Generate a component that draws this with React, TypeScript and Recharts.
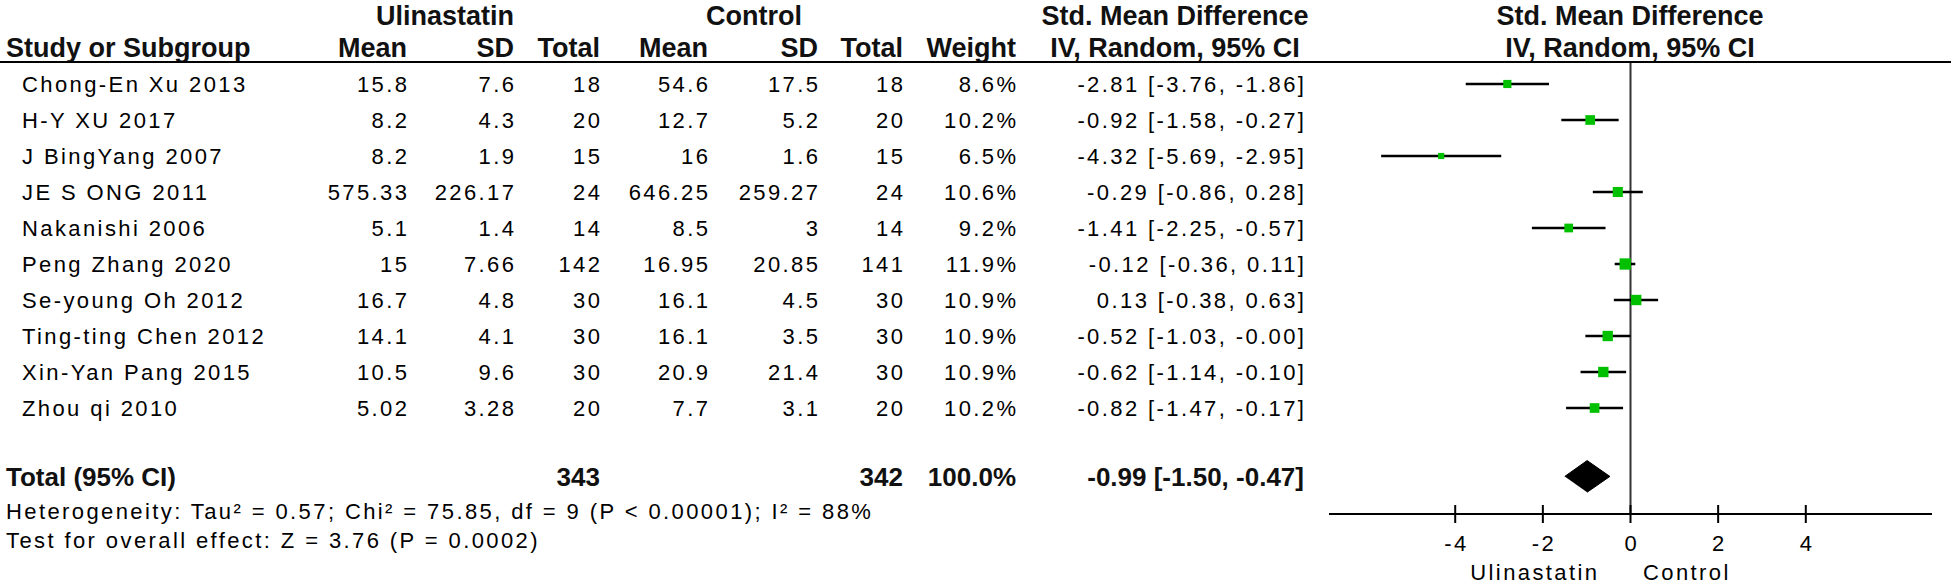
import React from "react";
import { ScatterChart, Scatter, XAxis, YAxis, ErrorBar, ReferenceLine } from "recharts";

const studies = [
  "Chong-En Xu 2013",
  "H-Y XU 2017",
  "J BingYang 2007",
  "JE S ONG 2011",
  "Nakanishi 2006",
  "Peng Zhang 2020",
  "Se-young Oh 2012",
  "Ting-ting Chen 2012",
  "Xin-Yan Pang 2015",
  "Zhou qi 2010",
];
const ulMean = [15.8, 8.2, 8.2, 575.33, 5.1, 15, 16.7, 14.1, 10.5, 5.02];
const ulSD = [7.6, 4.3, 1.9, 226.17, 1.4, 7.66, 4.8, 4.1, 9.6, 3.28];
const ulTotal = [18, 20, 15, 24, 14, 142, 30, 30, 30, 20];
const ctMean = [54.6, 12.7, 16, 646.25, 8.5, 16.95, 16.1, 16.1, 20.9, 7.7];
const ctSD = [17.5, 5.2, 1.6, 259.27, 3, 20.85, 4.5, 3.5, 21.4, 3.1];
const ctTotal = [18, 20, 15, 24, 14, 141, 30, 30, 30, 20];
const weights = [8.6, 10.2, 6.5, 10.6, 9.2, 11.9, 10.9, 10.9, 10.9, 10.2];
const smd = [-2.81, -0.92, -4.32, -0.29, -1.41, -0.12, 0.13, -0.52, -0.62, -0.82];
const ciLow = [-3.76, -1.58, -5.69, -0.86, -2.25, -0.36, -0.38, -1.03, -1.14, -1.47];
const ciHigh = [-1.86, -0.27, -2.95, 0.28, -0.57, 0.11, 0.63, -0, -0.1, -0.17];

const totalUl = 343;
const totalCt = 342;
const totalWeight = 100.0;
const totalSmd = -0.99;
const totalLow = -1.5;
const totalHigh = -0.47;

const xTicks = [-4, -2, 0, 2, 4];
const heterogeneity = "Heterogeneity: Tau\u00B2 = 0.57; Chi\u00B2 = 75.85, df = 9 (P < 0.00001); I\u00B2 = 88%";
const overall = "Test for overall effect: Z = 3.76 (P = 0.0002)";

const FONT = '"Liberation Sans", Arial, sans-serif';
const REG = 22;
const LS = 2.4;
const BOLD = 27;

const ROW0 = 84;
const ROWH = 36;
const rowY = (i: number) => ROW0 + ROWH * i;
const TOTAL_IDX = 10.9;

const fmt2 = (v: number) => (v < 0 || Object.is(v, -0) ? "-" : "") + Math.abs(v).toFixed(2);
const ciText = (e: number, l: number, h: number) => `${fmt2(e)} [${fmt2(l)}, ${fmt2(h)}]`;

const studyData = studies.map((s, i) => ({
  x: smd[i],
  y: i,
  err: [smd[i] - ciLow[i], ciHigh[i] - smd[i]],
  w: weights[i],
}));

const DIAMOND_H = 0.44;
const diamondData = [
  { x: totalLow, y: TOTAL_IDX },
  { x: totalSmd, y: TOTAL_IDX - DIAMOND_H },
  { x: totalHigh, y: TOTAL_IDX },
  { x: totalSmd, y: TOTAL_IDX + DIAMOND_H },
];

const Square = (props: any) => {
  const { cx, cy, payload } = props;
  const s = 0.95 * payload.w;
  return <rect x={cx - s / 2} y={cy - s / 2} width={s} height={s} fill="#00C000" />;
};

const Tick = (props: any) => {
  const { x, y, payload } = props;
  return (
    <g>
      <line x1={x} x2={x} y1={y - 9} y2={y + 9} stroke="#000" strokeWidth={2} />
      <text
        x={x + LS / 2}
        y={y + 37}
        textAnchor="middle"
        fontFamily={FONT}
        fontSize={REG}
        letterSpacing={LS}
        fill="#000"
      >
        {payload.value}
      </text>
    </g>
  );
};

const T = (p: {
  x: number;
  y: number;
  anchor?: "start" | "middle" | "end";
  bold?: boolean;
  size?: number;
  children: React.ReactNode;
}) => {
  const size = p.size ?? (p.bold ? BOLD : REG);
  const ls = p.bold ? 0 : LS;
  const anchor = p.anchor ?? "start";
  const dx = anchor === "end" ? ls : anchor === "middle" ? ls / 2 : 0;
  return (
    <text
      x={p.x + dx}
      y={p.y + 0.358 * size}
      textAnchor={anchor}
      fontFamily={FONT}
      fontSize={size}
      fontWeight={p.bold ? "bold" : "normal"}
      letterSpacing={ls}
      fill={p.bold ? "#111" : "#000"}
    >
      {p.children}
    </text>
  );
};

const COL = {
  study: 22,
  label: 6,
  ulMean: 407,
  ulSD: 514,
  ulTotal: 600,
  ctMean: 708,
  ctSD: 818,
  ctTotal: 903,
  weight: 1016,
  ci: 1304,
};

const H1 = 15;
const H2 = 47;

export default function App() {
  return (
    <div style={{ position: "absolute", left: 0, top: 0, width: 1956, height: 586, background: "#fff" }}>
      <svg width={1956} height={586} style={{ position: "absolute", left: 0, top: 0 }}>
        <T x={445} y={H1} anchor="middle" bold>Ulinastatin</T>
        <T x={754} y={H1} anchor="middle" bold>Control</T>
        <T x={1175} y={H1} anchor="middle" bold>Std. Mean Difference</T>
        <T x={1630} y={H1} anchor="middle" bold>Std. Mean Difference</T>

        <T x={COL.label} y={H2} bold>Study or Subgroup</T>
        <T x={COL.ulMean} y={H2} anchor="end" bold>Mean</T>
        <T x={COL.ulSD} y={H2} anchor="end" bold>SD</T>
        <T x={COL.ulTotal} y={H2} anchor="end" bold>Total</T>
        <T x={COL.ctMean} y={H2} anchor="end" bold>Mean</T>
        <T x={COL.ctSD} y={H2} anchor="end" bold>SD</T>
        <T x={COL.ctTotal} y={H2} anchor="end" bold>Total</T>
        <T x={COL.weight} y={H2} anchor="end" bold>Weight</T>
        <T x={1175} y={H2} anchor="middle" bold>IV, Random, 95% CI</T>
        <T x={1630} y={H2} anchor="middle" bold>IV, Random, 95% CI</T>

        <line x1={0} x2={1951} y1={62} y2={62} stroke="#000" strokeWidth={2} />

        {studies.map((s, i) => (
          <g key={s}>
            <T x={COL.study} y={rowY(i)}>{s}</T>
            <T x={COL.ulMean} y={rowY(i)} anchor="end">{String(ulMean[i])}</T>
            <T x={COL.ulSD} y={rowY(i)} anchor="end">{String(ulSD[i])}</T>
            <T x={COL.ulTotal} y={rowY(i)} anchor="end">{String(ulTotal[i])}</T>
            <T x={COL.ctMean} y={rowY(i)} anchor="end">{String(ctMean[i])}</T>
            <T x={COL.ctSD} y={rowY(i)} anchor="end">{String(ctSD[i])}</T>
            <T x={COL.ctTotal} y={rowY(i)} anchor="end">{String(ctTotal[i])}</T>
            <T x={COL.weight} y={rowY(i)} anchor="end">{weights[i].toFixed(1) + "%"}</T>
            <T x={COL.ci} y={rowY(i)} anchor="end">{ciText(smd[i], ciLow[i], ciHigh[i])}</T>
          </g>
        ))}

        <T x={COL.label} y={rowY(TOTAL_IDX)} bold size={26}>Total (95% CI)</T>
        <T x={COL.ulTotal} y={rowY(TOTAL_IDX)} anchor="end" bold size={26}>{String(totalUl)}</T>
        <T x={COL.ctTotal} y={rowY(TOTAL_IDX)} anchor="end" bold size={26}>{String(totalCt)}</T>
        <T x={COL.weight} y={rowY(TOTAL_IDX)} anchor="end" bold size={26}>{totalWeight.toFixed(1) + "%"}</T>
        <T x={COL.ci} y={rowY(TOTAL_IDX)} anchor="end" bold size={26}>{ciText(totalSmd, totalLow, totalHigh)}</T>

        <T x={COL.label} y={511}>{heterogeneity}</T>
        <T x={COL.label} y={540}>{overall}</T>

        <T x={1597} y={572} anchor="end">Ulinastatin</T>
        <T x={1643} y={572}>Control</T>
      </svg>
      <div style={{ position: "absolute", left: 0, top: 0 }}>
        <ScatterChart width={1956} height={586} margin={{ top: 63, right: 24, bottom: 12, left: 1329 }}>
          <XAxis
            type="number"
            dataKey="x"
            domain={[-6.88, 6.88]}
            allowDataOverflow
            ticks={xTicks}
            interval={0}
            height={60}
            tickSize={0}
            tickMargin={0}
            tickLine={false}
            axisLine={{ stroke: "#000", strokeWidth: 2 }}
            tick={<Tick />}
          />
          <YAxis type="number" dataKey="y" domain={[-0.583, 11.944]} reversed hide width={0} allowDataOverflow />
          <ReferenceLine x={0} stroke="#333" strokeWidth={2} ifOverflow="extendDomain" />
          <Scatter data={studyData} shape={<Square />} isAnimationActive={false}>
            <ErrorBar dataKey="err" direction="x" width={0} stroke="#000" strokeWidth={2.5} />
          </Scatter>
          <Scatter
            data={diamondData}
            shape={() => <g />}
            line={{ stroke: "#000", fill: "#000", strokeWidth: 1 }}
            lineType="joint"
            isAnimationActive={false}
          />
        </ScatterChart>
      </div>
    </div>
  );
}
